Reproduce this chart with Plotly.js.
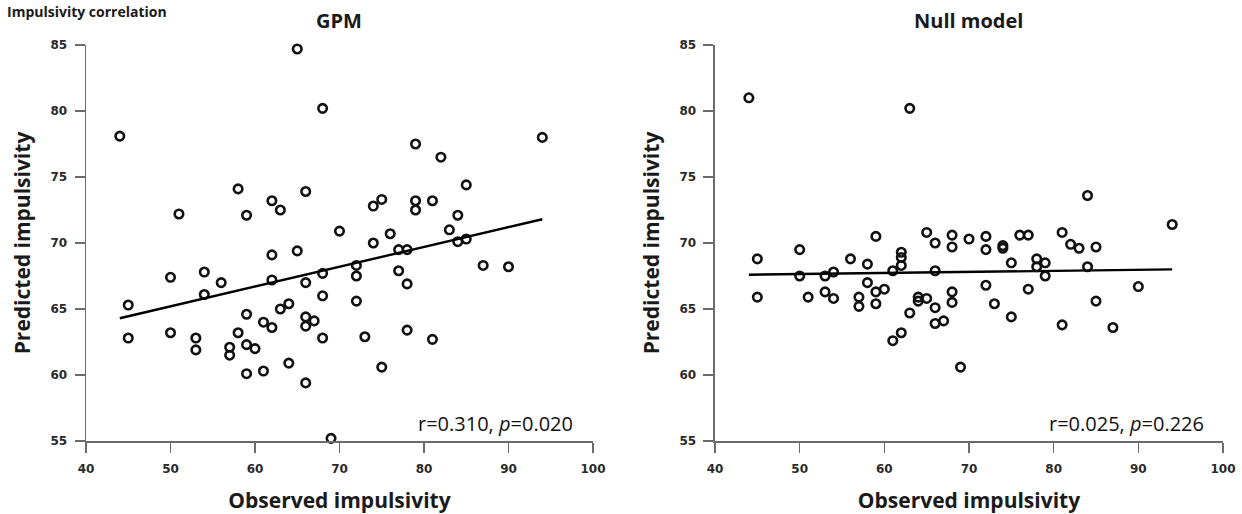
<!DOCTYPE html>
<html>
<head>
<meta charset="utf-8">
<script src="https://cdn.plot.ly/plotly-3.0.1.min.js"></script>
<style>html,body{margin:0;padding:0;background:#fff;}#chart{width:1242px;height:514px;}</style>
</head>
<body>
<div id="chart"></div>
<script>
// ---- data ----
const panelTitles = ["GPM", "Null model"];
const statLabels = ["r=0.310, <i>p</i>=0.020", "r=0.025, <i>p</i>=0.226"];
const xTitle = "Observed impulsivity";
const yTitle = "Predicted impulsivity";
const topTitle = "Impulsivity correlation";

const gpmX = [44,65,68,51,58,59,62,63,66,62,65,54,79,82,94,85,75,74,79,79,81,84,70,76,74,83,84,85,77,78,72,77,87,90,45,45,50,50,54,56,53,53,57,57,58,59,59,60,59,61,61,62,62,63,64,64,66,66,66,67,66,68,68,68,72,72,78,73,78,81,75,69];
const gpmY = [78.1,84.7,80.2,72.2,74.1,72.1,73.2,72.5,73.9,69.1,69.4,67.8,77.5,76.5,78.0,74.4,73.3,72.8,73.2,72.5,73.2,72.1,70.9,70.7,70.0,71.0,70.1,70.3,69.5,69.5,68.3,67.9,68.3,68.2,65.3,62.8,67.4,63.2,66.1,67.0,62.8,61.9,62.1,61.5,63.2,64.6,62.3,62.0,60.1,60.3,64.0,63.6,67.2,65.0,65.4,60.9,67.0,64.4,63.7,64.1,59.4,67.7,66.0,62.8,67.5,65.6,66.9,62.9,63.4,62.7,60.6,55.2];

const nullX = [44,63,45,45,50,50,51,53,54,53,54,56,57,57,58,58,59,59,59,60,61,62,62,62,61,62,63,64,64,65,65,66,66,66,66,67,68,68,68,68,69,70,72,72,74,74,76,77,81,82,83,85,75,78,78,79,79,84,72,77,73,85,75,81,87,90,84,94];
const nullY = [81.0,80.2,68.8,65.9,69.5,67.5,65.9,67.5,67.8,66.3,65.8,68.8,65.9,65.2,68.4,67.0,70.5,66.3,65.4,66.5,67.9,69.3,68.9,68.3,62.6,63.2,64.7,65.9,65.6,70.8,65.8,70.0,67.9,65.1,63.9,64.1,70.6,69.7,66.3,65.5,60.6,70.3,70.5,69.5,69.8,69.6,70.6,70.6,70.8,69.9,69.6,69.7,68.5,68.8,68.2,68.5,67.5,68.2,66.8,66.5,65.4,65.6,64.4,63.8,63.6,66.7,73.6,71.4];

const gpmFitX = [44, 94];
const gpmFitY = [64.3, 71.8];
const nullFitX = [44, 94];
const nullFitY = [67.6, 68.0];

const xTicks = [40, 50, 60, 70, 80, 90, 100];
const yTicks = [55, 60, 65, 70, 75, 80, 85];

// ---- styling ----
const titleFont = {family: "Open Sans, sans-serif", size: 21, color: "#1a1a1a", weight: "bold"};
const panelFont = {family: "Open Sans, sans-serif", size: 20, color: "#1a1a1a", weight: "bold"};
const tickFont = {family: "DejaVu Sans, sans-serif", size: 12, color: "#2a2a2a", weight: "bold"};
const markerStyle = {symbol: "circle", size: 8.5, color: "rgba(0,0,0,0)", line: {color: "#111", width: 2.6}};

function scatter(x, y, xa, ya) {
  return {x: x, y: y, xaxis: xa, yaxis: ya, type: "scatter", mode: "markers",
          marker: markerStyle, hoverinfo: "x+y", showlegend: false, cliponaxis: false};
}
function fit(x, y, xa, ya) {
  return {x: x, y: y, xaxis: xa, yaxis: ya, type: "scatter", mode: "lines",
          line: {color: "#000", width: 2.4}, showlegend: false};
}

function xAxis(domain, anchor) {
  return {domain: domain, anchor: anchor, range: [40, 100], tickvals: xTicks, ticktext: xTicks.map(String),
          showline: true, linecolor: "#6b6b6b", linewidth: 1.5, ticks: "outside", ticklen: 10, tickwidth: 1.5,
          tickcolor: "#6b6b6b", showgrid: false, zeroline: false, tickfont: tickFont, ticklabelstandoff: 6,
          title: {text: xTitle, font: titleFont, standoff: 18}, automargin: false, fixedrange: true};
}
function yAxis(anchor) {
  return {domain: [0, 1], anchor: anchor, range: [55, 85], tickvals: yTicks, ticktext: yTicks.map(String),
          showline: true, linecolor: "#6b6b6b", linewidth: 1.5, ticks: "outside", ticklen: 10, tickwidth: 1.5,
          tickcolor: "#6b6b6b", showgrid: false, zeroline: false, tickfont: tickFont, ticklabelstandoff: 5,
          title: {text: yTitle, font: titleFont, standoff: 14}, automargin: false, fixedrange: true};
}

const data = [
  scatter(gpmX, gpmY, "x", "y"),
  fit(gpmFitX, gpmFitY, "x", "y"),
  scatter(nullX, nullY, "x2", "y2"),
  fit(nullFitX, nullFitY, "x2", "y2")
];

const layout = {
  width: 1242, height: 514,
  margin: {l: 86, r: 19, t: 45, b: 73, pad: 0},
  paper_bgcolor: "#fff", plot_bgcolor: "#fff",
  showlegend: false,
  xaxis: xAxis([0, 0.44591], "y"),
  yaxis: yAxis("x"),
  xaxis2: xAxis([0.55321, 1], "y2"),
  yaxis2: yAxis("x2"),
  annotations: [
    {text: topTitle, xref: "paper", yref: "paper", x: -0.071, y: 1, xanchor: "left", yanchor: "bottom",
     yshift: 22, showarrow: false, font: {family: "Open Sans, sans-serif", size: 14, color: "#1a1a1a", weight: "bold"}},
    {text: panelTitles[0], xref: "x domain", yref: "paper", x: 0.5, y: 1, xanchor: "center", yanchor: "middle",
     yshift: 25, showarrow: false, font: panelFont},
    {text: panelTitles[1], xref: "x2 domain", yref: "paper", x: 0.5, y: 1, xanchor: "center", yanchor: "middle",
     yshift: 25, showarrow: false, font: panelFont},
    {text: statLabels[0], xref: "x", yref: "y", x: 97.85, y: 56.36, xanchor: "right", yanchor: "middle",
     showarrow: false, font: {family: "Open Sans, sans-serif", size: 20, color: "#111"}},
    {text: statLabels[1], xref: "x2", yref: "y2", x: 97.95, y: 56.36, xanchor: "right", yanchor: "middle",
     showarrow: false, font: {family: "Open Sans, sans-serif", size: 20, color: "#111"}}
  ]
};

Plotly.newPlot("chart", data, layout, {displayModeBar: false, staticPlot: true});
</script>
</body>
</html>
